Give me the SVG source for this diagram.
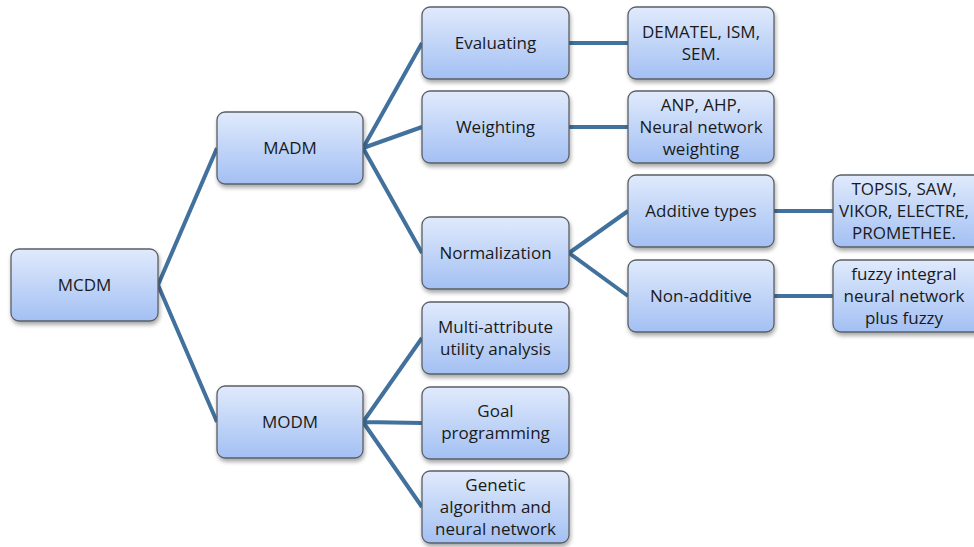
<svg xmlns="http://www.w3.org/2000/svg" width="974" height="547" viewBox="0 0 974 547">
<defs>
<linearGradient id="g" x1="0" y1="0" x2="0" y2="1">
<stop offset="0" stop-color="#e0eafc"/>
<stop offset="1" stop-color="#a3c0f3"/>
</linearGradient>
<filter id="sh" x="-10%" y="-10%" width="120%" height="130%">
<feGaussianBlur in="SourceAlpha" stdDeviation="2"/>
<feOffset dx="1" dy="3"/>
<feComponentTransfer><feFuncA type="linear" slope="0.35"/></feComponentTransfer>
<feMerge><feMergeNode/><feMergeNode in="SourceGraphic"/></feMerge>
</filter>
</defs>
<style>
.b{fill:url(#g);stroke:#5a5f66;stroke-width:1.3;filter:url(#sh)}
.t{font-family:"Open Sans","Liberation Sans",sans-serif;font-size:17px;fill:#1a1a1a;text-anchor:middle}
.c{stroke:#41719c;stroke-width:4;fill:none;stroke-linejoin:round}
</style>
<rect width="974" height="547" fill="#ffffff"/>
<g id="connectors">
<path class="c" d="M217,148 L158,285 L217,422"/>
<path class="c" d="M422,43 L363,148 L422,127 M363,148 L422,253"/>
<path class="c" d="M422,338 L363,422 L422,423 M363,422 L422,507"/>
<path class="c" d="M569,43 L628,43 M569,127 L628,127"/>
<path class="c" d="M628,211 L569,253 L628,296"/>
<path class="c" d="M774,211 L833,211 M774,296 L833,296"/>
</g>
<g id="mcdm"><rect class="b" x="11" y="249" width="147" height="72" rx="8"/><text class="t" x="84.5" y="291">MCDM</text></g>
<g id="madm"><rect class="b" x="217" y="112" width="146" height="72" rx="8"/><text class="t" x="290" y="154">MADM</text></g>
<g id="modm"><rect class="b" x="217" y="386" width="146" height="72" rx="8"/><text class="t" x="290" y="428">MODM</text></g>
<g id="evaluating"><rect class="b" x="422" y="7" width="147" height="72" rx="8"/><text class="t" x="495.5" y="49">Evaluating</text></g>
<g id="weighting"><rect class="b" x="422" y="91" width="147" height="72" rx="8"/><text class="t" x="495.5" y="133">Weighting</text></g>
<g id="normalization"><rect class="b" x="422" y="217" width="147" height="72" rx="8"/><text class="t" x="495.5" y="259">Normalization</text></g>
<g id="multiattr"><rect class="b" x="422" y="302" width="147" height="72" rx="8"/><text class="t" x="495.5" y="333">Multi-attribute</text><text class="t" x="495.5" y="355">utility analysis</text></g>
<g id="goal"><rect class="b" x="422" y="387" width="147" height="72" rx="8"/><text class="t" x="495.5" y="417">Goal</text><text class="t" x="495.5" y="439">programming</text></g>
<g id="genetic"><rect class="b" x="422" y="471" width="147" height="72" rx="8"/><text class="t" x="495.5" y="491">Genetic</text><text class="t" x="495.5" y="513">algorithm and</text><text class="t" x="495.5" y="535">neural network</text></g>
<g id="dematel"><rect class="b" x="628" y="7" width="146" height="72" rx="8"/><text class="t" x="701" y="38">DEMATEL, ISM,</text><text class="t" x="701" y="60">SEM.</text></g>
<g id="anp"><rect class="b" x="628" y="91" width="146" height="72" rx="8"/><text class="t" x="701" y="111">ANP, AHP,</text><text class="t" x="701" y="133">Neural network</text><text class="t" x="701" y="155">weighting</text></g>
<g id="additive"><rect class="b" x="628" y="175" width="146" height="72" rx="8"/><text class="t" x="701" y="217">Additive types</text></g>
<g id="nonadditive"><rect class="b" x="628" y="260" width="146" height="72" rx="8"/><text class="t" x="701" y="302">Non-additive</text></g>
<g id="topsis"><rect class="b" x="833" y="175" width="150" height="72" rx="8"/><text class="t" x="904" y="195">TOPSIS, SAW,</text><text class="t" x="904" y="217">VIKOR, ELECTRE,</text><text class="t" x="904" y="239">PROMETHEE.</text></g>
<g id="fuzzy"><rect class="b" x="833" y="260" width="150" height="72" rx="8"/><text class="t" x="904" y="280">fuzzy integral</text><text class="t" x="904" y="302">neural network</text><text class="t" x="904" y="324">plus fuzzy</text></g>
</svg>
